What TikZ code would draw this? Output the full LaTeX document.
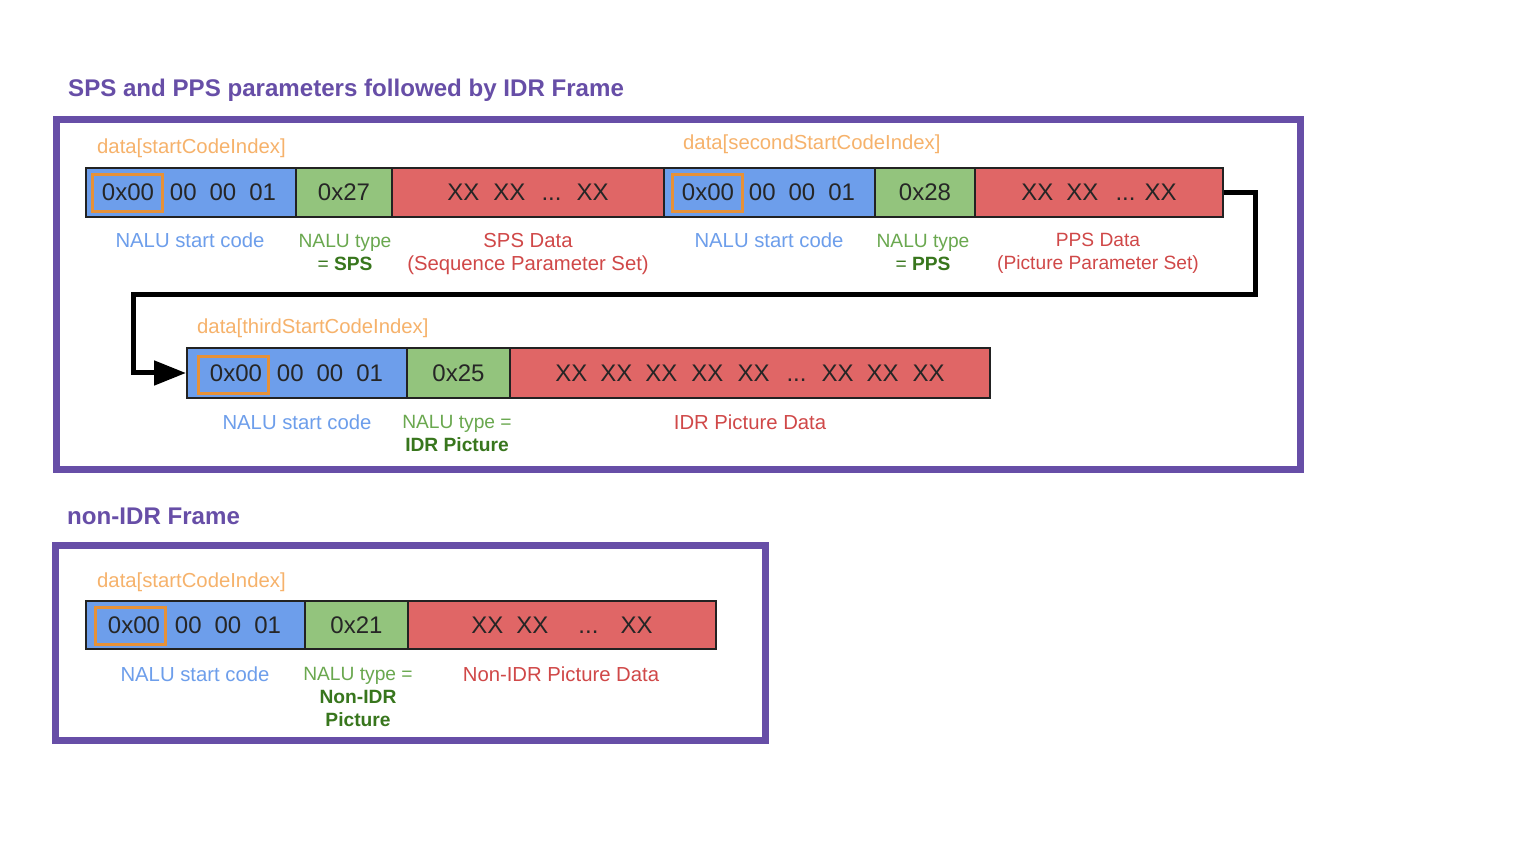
\documentclass[tikz,border=0pt]{standalone}
\usepackage{fontspec}
\setmainfont{Liberation Sans}
\usetikzlibrary{arrows.meta}
\definecolor{segblue}{HTML}{6D9EEB}
\definecolor{seggreen}{HTML}{93C47D}
\definecolor{segred}{HTML}{E06666}
\definecolor{frameviolet}{HTML}{674EA7}
\definecolor{idxorange}{HTML}{F6B26B}
\definecolor{boxorange}{HTML}{E69138}
\definecolor{lblblue}{HTML}{6D9EEB}
\definecolor{lblgreen}{HTML}{6AA84F}
\definecolor{lblgreendark}{HTML}{38761D}
\definecolor{lblred}{HTML}{D04848}
\definecolor{segline}{HTML}{222222}
\newcommand{\gp}[1]{\hspace{#1pt}}
\begin{document}
\begin{tikzpicture}[x=1pt,y=-1pt,
  seg/.style={draw=segline, line width=2pt, rectangle, inner sep=0pt, minimum height=49pt,
    font=\fontsize{24}{28}\selectfont, text=black!85},
  bytes/.style={font=\fontsize{24}{28}\selectfont, text=black!85, inner sep=0pt, anchor=base},
  zerobox/.style={draw=boxorange, line width=3pt, inner sep=0pt, minimum width=70pt, minimum height=37pt},
  idx/.style={text=idxorange, font=\fontsize{20.3}{24}\selectfont, anchor=base west, inner sep=0pt},
  lbl/.style={font=\fontsize{20.3}{24}\selectfont, anchor=base, inner sep=0pt},
  lblsmall/.style={font=\fontsize{19.2}{23}\selectfont},
  lblb/.style={lbl, text=lblblue},
  lblg/.style={lbl, text=lblgreen, lblsmall},
  lblgd/.style={lbl, text=lblgreendark, font=\bfseries\fontsize{19.2}{23}\selectfont},
  lblr/.style={lbl, text=lblred},
  titletext/.style={text=frameviolet, font=\bfseries\fontsize{24.1}{28}\selectfont, anchor=base west, inner sep=0pt},
  frameline/.style={draw=frameviolet, line width=7pt},
  conn/.style={draw=black, line width=5pt, -{Triangle[length=32pt,width=24pt]}}]
\useasboundingbox[fill=white] (0,0) rectangle (1540,850);

% ---------- frames and titles ----------
\draw[frameline] (56,120) rectangle (1300,469);
\draw[frameline] (55.5,545.5) rectangle (765.5,740.5);
\node[titletext] (t1) at (68,97) {SPS and PPS parameters followed by IDR Frame};
\node[titletext] (t2) at (67,524) {non-IDR Frame};

% ---------- row 1 ----------
\node[seg, fill=segblue, minimum width=210pt] (b1) at (191,192.5) {};
\node[seg, fill=seggreen, minimum width=96pt] (g1) at (344,192.5) {0x27};
\node[seg, fill=segred, minimum width=272pt] (r1) at (528,192.5) {XX\gp{14}XX\gp{16}...\gp{15}XX};
\node[seg, fill=segblue, minimum width=211pt] (b2) at (769.5,192.5) {};
\node[seg, fill=seggreen, minimum width=100pt] (g2) at (925,192.5) {0x28};
\node[seg, fill=segred, minimum width=248pt] (r2) at (1099,192.5) {XX\gp{13}XX\gp{17}...\gp{9}XX};
\node[zerobox] (z1) at (127,193) {};
\node[bytes] (z1t) at (128,201) {0x00};
\node[bytes] (s1) at (223,201) {00\gp{13}00\gp{13}01};
\node[zerobox] (z2) at (707,193) {};
\node[bytes] (z2t) at (708,201) {0x00};
\node[bytes] (s2) at (802,201) {00\gp{13}00\gp{13}01};

\node[idx] (i1) at (97,154) {data[startCodeIndex]};
\node[idx] (i2) at (683,150) {data[secondStartCodeIndex]};

\node[lblb] (l1) at (190,248) {NALU start code};
\node[lblg] (l2a) at (345,248) {NALU type};
\node[lblgd] (l2b) at (345,271) {\mdseries=\ \bfseries SPS};
\node[lblr] (l3a) at (528,248) {SPS Data};
\node[lblr] (l3b) at (528,271) {(Sequence Parameter Set)};
\node[lblb] (l4) at (769,248) {NALU start code};
\node[lblg] (l5a) at (923,248) {NALU type};
\node[lblgd] (l5b) at (923,271) {\mdseries=\ \bfseries PPS};
\node[lblr, lblsmall] (l6a) at (1098,247) {PPS Data};
\node[lblr, lblsmall] (l6b) at (1098,270) {(Picture Parameter Set)};

% ---------- row 2 ----------
\node[seg, fill=segblue, minimum width=220pt, minimum height=50pt] (b3) at (297,373) {};
\node[seg, fill=seggreen, minimum width=103pt, minimum height=50pt] (g3) at (458.5,373) {0x25};
\node[seg, fill=segred, minimum width=480pt, minimum height=50pt] (r3) at (750,373)
  {XX\gp{13}XX\gp{13}XX\gp{14}XX\gp{14}XX\gp{17}...\gp{15}XX\gp{13}XX\gp{14}XX};
\node[zerobox] (z3) at (233,375) {};
\node[bytes] (z3t) at (236,381.5) {0x00};
\node[bytes] (s3) at (330,381.5) {00\gp{13}00\gp{13}01};
\node[idx] (i3) at (197,334) {data[thirdStartCodeIndex]};
\node[lblb] (l7) at (297,429) {NALU start code};
\node[lblg] (l8a) at (457,428) {NALU type =};
\node[lblgd] (l8b) at (457,451) {IDR Picture};
\node[lblr] (l9) at (750,429) {IDR Picture Data};

% ---------- connector ----------
\coordinate (cR) at (1255,295);
\coordinate (cL) at (133,295);
\draw[conn] (r2.east) -| (cR) -- (cL) |- (b3.west);

% ---------- row 4 (non-IDR) ----------
\node[seg, fill=segblue, minimum width=219pt, minimum height=48pt] (b4) at (195.5,625) {};
\node[seg, fill=seggreen, minimum width=103pt, minimum height=48pt] (g4) at (356.5,625) {0x21};
\node[seg, fill=segred, minimum width=308pt, minimum height=48pt] (r4) at (562,625) {XX\gp{13}XX\gp{30}...\gp{22}XX};
\node[zerobox] (z4) at (130.5,626) {};
\node[bytes] (z4t) at (134,633.5) {0x00};
\node[bytes] (s4) at (228,633.5) {00\gp{13}00\gp{13}01};
\node[idx] (i4) at (97,587) {data[startCodeIndex]};
\node[lblb] (l10) at (195,681) {NALU start code};
\node[lblg] (l11a) at (358,680) {NALU type =};
\node[lblgd] (l11b) at (358,703) {Non-IDR};
\node[lblgd] (l11c) at (358,726) {Picture};
\node[lblr] (l12) at (561,681) {Non-IDR Picture Data};
\end{tikzpicture}
\end{document}
